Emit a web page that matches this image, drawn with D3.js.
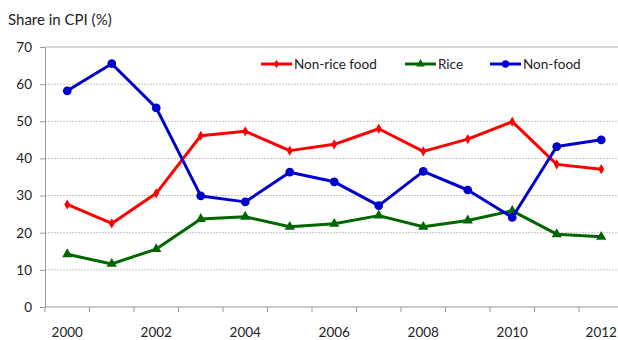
<!DOCTYPE html>
<html>
<head>
<script src="https://d3js.org/d3.v7.min.js"></script>
<style>
body {margin: 0; background: #fff;}
text {font-family: Lato, 'Open Sans', sans-serif; fill: #222;}
</style>
</head>
<body>
<svg id="chart" width="618" height="340"></svg>
<script>
// data
var years = ['2000','2001','2002','2003','2004','2005','2006','2007','2008','2009','2010','2011','2012'];
var yearLabels = ['2000','2002','2004','2006','2008','2010','2012'];
var nonRice = [27.6, 22.5, 30.6, 46.1, 47.3, 42.1, 43.8, 48.0, 41.9, 45.2, 49.9, 38.4, 37.1];
var rice    = [14.2, 11.6, 15.6, 23.7, 24.3, 21.6, 22.4, 24.6, 21.6, 23.3, 25.9, 19.6, 18.9];
var nonFood = [58.2, 65.5, 53.6, 29.9, 28.3, 36.3, 33.7, 27.3, 36.5, 31.5, 24.1, 43.2, 45.0];
var yTicks = [0, 10, 20, 30, 40, 50, 60, 70];

var series = [
  {name: 'Non-rice food', values: nonRice, color: '#ff0000', shape: d3.symbolDiamond, size: 30},
  {name: 'Rice', values: rice, color: '#006600', shape: d3.symbolTriangle, size: 45},
  {name: 'Non-food', values: nonFood, color: '#0000cc', shape: d3.symbolCircle, size: 60}
];

var svg = d3.select('#chart');
var plotLeft = 45, plotTop = 47, plotBottom = 307;

var x = d3.scaleBand().domain(years).range([plotLeft, plotLeft + 13 * 44.5]);
var y = d3.scaleLinear().domain([0, 70]).range([plotBottom, plotTop]);

// gridlines
svg.append('g')
  .selectAll('line')
  .data(yTicks.filter(function(d){return d > 0 && d < 70;}))
  .enter().append('line')
  .attr('x1', plotLeft).attr('x2', 618)
  .attr('y1', function(d){return y(d);}).attr('y2', function(d){return y(d);})
  .style('stroke', '#c4c4c4').style('stroke-dasharray', '2,1').style('stroke-width', 1);

svg.append('line')
  .attr('x1', plotLeft).attr('x2', 618)
  .attr('y1', y(70)).attr('y2', y(70))
  .style('stroke', '#c8c8c8').style('stroke-width', 1.5);

// y axis
var yAxis = svg.append('g')
  .attr('transform', 'translate(' + plotLeft + ',0)')
  .call(d3.axisLeft(y).tickValues(yTicks).tickSize(5).tickPadding(8));
yAxis.select('.domain').style('stroke', '#999');
yAxis.selectAll('.tick line').style('stroke', '#999');
yAxis.selectAll('text').style('font-size', '13.5px').style('font-family', 'Lato, sans-serif').style('fill', '#222');

// x axis with ticks at band edges
var xAxis = svg.append('g').attr('transform', 'translate(0,' + plotBottom + ')');
xAxis.append('line').attr('x1', plotLeft).attr('x2', 618).style('stroke', '#999');
xAxis.selectAll('.edge')
  .data(years)
  .enter().append('line')
  .attr('class', 'edge')
  .attr('x1', function(d){return x(d);}).attr('x2', function(d){return x(d);})
  .attr('y1', 0).attr('y2', 5)
  .style('stroke', '#999');
xAxis.selectAll('text')
  .data(yearLabels)
  .enter().append('text')
  .attr('x', function(d){return x(d) + x.bandwidth() / 2;})
  .attr('y', 30)
  .style('text-anchor', 'middle')
  .style('font-size', '13.5px')
  .text(function(d){return d;});

// title
svg.append('text')
  .attr('x', 8).attr('y', 25)
  .style('font-size', '15px')
  .text('Share in CPI (%)');

// lines + markers
var line = d3.line()
  .x(function(d, i){return x(years[i]) + x.bandwidth() / 2;})
  .y(function(d){return y(d);});

series.forEach(function(s) {
  svg.append('path')
    .datum(s.values)
    .attr('d', line)
    .style('fill', 'none')
    .style('stroke', s.color)
    .style('stroke-width', 3)
    .style('stroke-linejoin', 'round');
  svg.append('g')
    .selectAll('path')
    .data(s.values)
    .enter().append('path')
    .attr('d', d3.symbol().type(s.shape).size(s.size))
    .attr('transform', function(d, i){return 'translate(' + (x(years[i]) + x.bandwidth() / 2) + ',' + y(d) + ')';})
    .style('fill', s.color);
});

// legend
var legendX = [261, 405, 490];
var legend = svg.append('g')
  .selectAll('g')
  .data(series)
  .enter().append('g')
  .attr('transform', function(d, i){return 'translate(' + legendX[i] + ',64)';});
legend.append('line')
  .attr('x1', 0).attr('x2', 31)
  .style('stroke', function(d){return d.color;})
  .style('stroke-width', 3);
legend.append('path')
  .attr('transform', 'translate(15.5,0)')
  .attr('d', function(d){return d3.symbol().type(d.shape).size(d.size * 0.7)();})
  .style('fill', function(d){return d.color;});
legend.append('text')
  .attr('x', 33).attr('dy', '0.35em')
  .style('font-size', '13.5px')
  .text(function(d){return d.name;});
</script>
</body>
</html>
